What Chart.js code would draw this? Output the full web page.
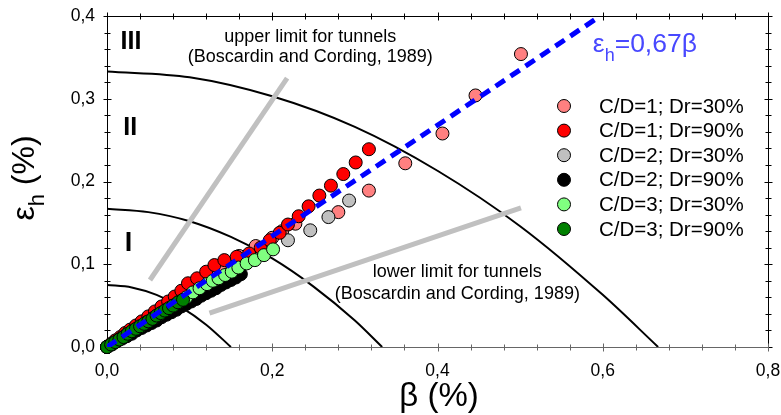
<!DOCTYPE html>
<html>
<head>
<meta charset="utf-8">
<script src="https://cdn.jsdelivr.net/npm/chart.js@4.4.1/dist/chart.umd.min.js"></script>
<style>
    html, body { margin: 0; padding: 0; background: #fff; }
    canvas { display: block; }
</style>
</head>
<body>
<canvas id="chart-strain" width="781" height="415"></canvas>
<script>
// Axis ranges and labelled (major) ticks
const xMajorTicks = [0, 0.2, 0.4, 0.6, 0.8];
const yMajorTicks = [0, 0.1, 0.2, 0.3, 0.4];

// Series labels (legend order)
const seriesLabels = ['C/D=1; Dr=30%', 'C/D=1; Dr=90%', 'C/D=2; Dr=30%', 'C/D=2; Dr=90%', 'C/D=3; Dr=30%', 'C/D=3; Dr=90%'];

// C/D=1; Dr=30%
const cd1dr30Beta = [0.000, 0.010, 0.020, 0.030, 0.040, 0.050, 0.060, 0.070, 0.080, 0.090, 0.100, 0.110, 0.125, 0.140, 0.160, 0.180, 0.200, 0.212, 0.228, 0.280, 0.317, 0.361, 0.406, 0.446, 0.501];
const cd1dr30Eps  = [0.000, 0.007, 0.014, 0.021, 0.028, 0.035, 0.042, 0.049, 0.056, 0.063, 0.070, 0.077, 0.087, 0.097, 0.110, 0.122, 0.132, 0.140, 0.149, 0.163, 0.189, 0.222, 0.258, 0.304, 0.354];

// C/D=1; Dr=90%
const cd1dr90Beta = [0.000, 0.005, 0.010, 0.016, 0.022, 0.028, 0.035, 0.042, 0.050, 0.058, 0.066, 0.074, 0.082, 0.090, 0.098, 0.109, 0.120, 0.130, 0.142, 0.157, 0.172, 0.186, 0.197, 0.209, 0.219, 0.232, 0.244, 0.257, 0.271, 0.286, 0.301, 0.317];
const cd1dr90Eps  = [0.000, 0.004, 0.008, 0.012, 0.017, 0.021, 0.026, 0.031, 0.037, 0.043, 0.049, 0.055, 0.061, 0.068, 0.077, 0.083, 0.091, 0.099, 0.105, 0.109, 0.113, 0.120, 0.129, 0.138, 0.148, 0.158, 0.170, 0.183, 0.195, 0.209, 0.223, 0.239];

// C/D=2; Dr=30%
const cd2dr30Beta = [0.000, 0.010, 0.020, 0.030, 0.040, 0.050, 0.060, 0.070, 0.080, 0.090, 0.100, 0.110, 0.120, 0.130, 0.140, 0.150, 0.160, 0.175, 0.191, 0.219, 0.246, 0.268, 0.293];
const cd2dr30Eps  = [0.000, 0.006, 0.012, 0.018, 0.024, 0.030, 0.036, 0.042, 0.048, 0.054, 0.060, 0.066, 0.072, 0.078, 0.085, 0.091, 0.097, 0.106, 0.117, 0.129, 0.141, 0.157, 0.177];

// C/D=2; Dr=90%
const cd2dr90Beta = [0.000, 0.006, 0.012, 0.018, 0.024, 0.030, 0.036, 0.042, 0.048, 0.054, 0.060, 0.066, 0.072, 0.078, 0.084, 0.090, 0.096, 0.102, 0.108, 0.114, 0.120, 0.126, 0.132, 0.138, 0.144, 0.150, 0.156, 0.162];
const cd2dr90Eps  = [0.000, 0.003, 0.007, 0.010, 0.013, 0.016, 0.020, 0.023, 0.026, 0.029, 0.032, 0.036, 0.039, 0.042, 0.045, 0.049, 0.052, 0.055, 0.058, 0.062, 0.065, 0.068, 0.071, 0.075, 0.078, 0.081, 0.084, 0.088];

// C/D=3; Dr=30%
const cd3dr30Beta = [0.000, 0.008, 0.016, 0.024, 0.032, 0.040, 0.048, 0.056, 0.064, 0.072, 0.080, 0.088, 0.096, 0.104, 0.112, 0.121, 0.128, 0.135, 0.143, 0.151, 0.159, 0.169, 0.179, 0.190, 0.201];
const cd3dr30Eps  = [0.000, 0.005, 0.010, 0.015, 0.020, 0.025, 0.030, 0.035, 0.040, 0.045, 0.050, 0.055, 0.060, 0.066, 0.071, 0.076, 0.080, 0.083, 0.087, 0.091, 0.096, 0.101, 0.105, 0.111, 0.118];

// C/D=3; Dr=90%
const cd3dr90Beta = [0.000, 0.005, 0.010, 0.015, 0.020, 0.025, 0.030, 0.035, 0.040, 0.045, 0.050, 0.055, 0.060, 0.065, 0.070, 0.075, 0.080, 0.086, 0.092];
const cd3dr90Eps  = [0.000, 0.003, 0.006, 0.009, 0.012, 0.016, 0.019, 0.022, 0.025, 0.028, 0.031, 0.034, 0.038, 0.041, 0.044, 0.047, 0.050, 0.054, 0.057];

// Damage category boundaries
const bound1Beta = [0.000, 0.030, 0.060, 0.090, 0.120, 0.150];
const bound1Eps  = [0.075, 0.072, 0.063, 0.048, 0.027, 0.000];
const bound2Beta = [0.000, 0.050, 0.100, 0.150, 0.200, 0.250, 0.300, 0.333];
const bound2Eps  = [0.167, 0.163, 0.152, 0.133, 0.107, 0.073, 0.032, 0.000];
const bound3Beta = [0.000, 0.100, 0.200, 0.300, 0.400, 0.500, 0.600, 0.667];
const bound3Eps  = [0.333, 0.326, 0.303, 0.266, 0.213, 0.146, 0.063, 0.000];

// Tunnel limits (Boscardin and Cording, 1989)
const upperLimitBeta = [0.052, 0.218];
const upperLimitEps  = [0.081, 0.325];
const lowerLimitBeta = [0.124, 0.501];
const lowerLimitEps  = [0.041, 0.168];

// Fit line eps_h = 0,67 beta
const fitBeta = [0.000, 0.597];
const fitEps  = [0.000, 0.400];

const FONT = "'Liberation Sans', Arial, Helvetica, sans-serif";

function toPoints(xs, ys) {
    return xs.map((v, i) => ({ x: v, y: ys[i] }));
}

function isMajor(value, list) {
    return list.some(m => Math.abs(m - value) < 1e-6);
}

function fmt(value) {
    return value.toFixed(1).replace('.', ',');
}

/**
 * Scatter series helper
 */
function pointSeries(label, xs, ys, color, order) {
    return {
        label: label,
        data: toPoints(xs, ys),
        showLine: false,
        pointRadius: 6.5,
        pointBorderWidth: 1,
        pointBorderColor: '#000',
        pointBackgroundColor: color,
        backgroundColor: color,
        order: order,
        clip: false
    };
}

/**
 * Line helper (boundaries, limits, fit)
 */
function lineSeries(xs, ys, color, width, order, extra) {
    return Object.assign({
        data: toPoints(xs, ys),
        showLine: true,
        pointRadius: 0,
        borderColor: color,
        borderWidth: width,
        fill: false,
        order: order
    }, extra || {});
}

const seriesColors = ['#ff8080', '#ff0000', '#c0c0c0', '#000000', '#80ff80', '#008000'];

const datasets = [
    lineSeries(bound1Beta, bound1Eps, '#000', 2, 20, { cubicInterpolationMode: 'monotone' }),
    lineSeries(bound2Beta, bound2Eps, '#000', 2, 20, { cubicInterpolationMode: 'monotone' }),
    lineSeries(bound3Beta, bound3Eps, '#000', 2, 20, { cubicInterpolationMode: 'monotone' }),
    lineSeries(upperLimitBeta, upperLimitEps, '#c0c0c0', 5, 19),
    lineSeries(lowerLimitBeta, lowerLimitEps, '#c0c0c0', 5, 19),
    pointSeries(seriesLabels[0], cd1dr30Beta, cd1dr30Eps, seriesColors[0], 8),
    pointSeries(seriesLabels[2], cd2dr30Beta, cd2dr30Eps, seriesColors[2], 7),
    pointSeries(seriesLabels[3], cd2dr90Beta, cd2dr90Eps, seriesColors[3], 6),
    pointSeries(seriesLabels[1], cd1dr90Beta, cd1dr90Eps, seriesColors[1], 5),
    pointSeries(seriesLabels[4], cd3dr30Beta, cd3dr30Eps, seriesColors[4], 4),
    pointSeries(seriesLabels[5], cd3dr90Beta, cd3dr90Eps, seriesColors[5], 3),
    lineSeries(fitBeta, fitEps, '#0000ff', 5, 0, { borderDash: [11, 7], borderCapStyle: 'butt' })
];

// Frame with ticks crossing the axis on all four sides
const framePlugin = {
    id: 'frame',
    beforeDatasetsDraw(chart) {
        const { ctx, chartArea: a, scales: { x, y } } = chart;
        const L = Math.round(a.left) + 0.5, R = Math.round(a.right) + 0.5;
        const T = Math.round(a.top) + 0.5, B = Math.round(a.bottom) + 0.5;
        ctx.save();
        ctx.lineWidth = 1;
        ctx.strokeStyle = '#000';
        ctx.beginPath();
        ctx.moveTo(L, B); ctx.lineTo(L, T); ctx.lineTo(R, T); ctx.lineTo(R, B);
        x.ticks.forEach(t => {
            const p = Math.round(x.getPixelForValue(t.value)) + 0.5;
            const len = isMajor(t.value, xMajorTicks) ? 4 : 3;
            ctx.moveTo(p, T - len); ctx.lineTo(p, T + len);
        });
        y.ticks.forEach(t => {
            const p = Math.round(y.getPixelForValue(t.value)) + 0.5;
            const len = isMajor(t.value, yMajorTicks) ? 4 : 3;
            ctx.moveTo(L - len, p); ctx.lineTo(L + len, p);
            ctx.moveTo(R - len, p); ctx.lineTo(R + len, p);
        });
        ctx.stroke();

        // bottom axis is grey in the original
        ctx.strokeStyle = '#666';
        ctx.beginPath();
        ctx.moveTo(L, B); ctx.lineTo(R, B);
        x.ticks.forEach(t => {
            const p = Math.round(x.getPixelForValue(t.value)) + 0.5;
            const len = isMajor(t.value, xMajorTicks) ? 4 : 3;
            ctx.moveTo(p, B - len); ctx.lineTo(p, B + len);
        });
        ctx.stroke();
        ctx.restore();
    }
};

// Text annotations, axis titles and the legend
const textPlugin = {
    id: 'texts',
    afterDraw(chart) {
        const { ctx, scales: { x, y } } = chart;
        const px = v => x.getPixelForValue(v);
        const py = v => y.getPixelForValue(v);
        ctx.save();
        ctx.fillStyle = '#000';

        // damage zones
        ctx.font = 'bold 25px ' + FONT;
        ctx.textAlign = 'center';
        ctx.textBaseline = 'middle';
        ctx.fillText('III', px(0.029), py(0.369));
        ctx.fillText('II', px(0.028), py(0.265));
        ctx.font = 'bold 27px ' + FONT;
        ctx.fillText('I', px(0.026), py(0.125));

        // limit annotations
        ctx.font = '18px ' + FONT;
        ctx.fillText('upper limit for tunnels', px(0.246), py(0.374));
        ctx.fillText('(Boscardin and Cording, 1989)', px(0.246), py(0.351));
        ctx.fillText('lower limit for tunnels', px(0.424), py(0.091));
        ctx.fillText('(Boscardin and Cording, 1989)', px(0.424), py(0.064));

        // fit label
        ctx.fillStyle = '#4848ff';
        ctx.textAlign = 'left';
        ctx.textBaseline = 'alphabetic';
        let sx = px(0.588);
        const sy = py(0.356);
        ctx.font = '26.5px ' + FONT;
        ctx.fillText('ε', sx, sy);
        sx += ctx.measureText('ε').width;
        ctx.font = '18px ' + FONT;
        ctx.fillText('h', sx, sy + 9);
        sx += ctx.measureText('h').width;
        ctx.font = '26.5px ' + FONT;
        ctx.fillText('=0,67β', sx, sy);

        // x axis title
        ctx.fillStyle = '#000';
        ctx.font = '33px ' + FONT;
        ctx.textAlign = 'center';
        ctx.fillText('β (%)', 439, 406);

        // y axis title (rotated, with subscript)
        ctx.save();
        ctx.translate(34, 178);
        ctx.rotate(-Math.PI / 2);
        ctx.textAlign = 'left';
        ctx.font = '32px ' + FONT;
        const wE = ctx.measureText('ε').width;
        const wRest = ctx.measureText(' (%)').width;
        ctx.font = '22px ' + FONT;
        const wH = ctx.measureText('h').width;
        let tx = -(wE + wH + wRest) / 2;
        ctx.font = '32px ' + FONT;
        ctx.fillText('ε', tx, 0);
        tx += wE;
        ctx.font = '22px ' + FONT;
        ctx.fillText('h', tx, 10);
        tx += wH;
        ctx.font = '32px ' + FONT;
        ctx.fillText(' (%)', tx, 0);
        ctx.restore();

        // legend
        ctx.font = '20.5px ' + FONT;
        ctx.textAlign = 'left';
        ctx.textBaseline = 'middle';
        seriesLabels.forEach((label, i) => {
            const ly = 106 + i * 24.6;
            ctx.beginPath();
            ctx.arc(564, ly, 6.5, 0, Math.PI * 2);
            ctx.fillStyle = seriesColors[i];
            ctx.fill();
            ctx.lineWidth = 1;
            ctx.strokeStyle = '#000';
            ctx.stroke();
            ctx.fillStyle = '#000';
            ctx.fillText(label, 599, ly + 1);
        });
        ctx.restore();
    }
};

Chart.defaults.font.family = FONT;
Chart.defaults.color = '#000';

new Chart(document.getElementById('chart-strain'), {
    type: 'scatter',
    data: { datasets: datasets },
    options: {
        responsive: false,
        animation: false,
        events: [],
        layout: { padding: { top: 16, right: 13, left: 0, bottom: 0 } },
        plugins: {
            legend: { display: false },
            tooltip: { enabled: false }
        },
        scales: {
            x: {
                type: 'linear',
                min: 0,
                max: 0.8,
                afterFit: scale => {
                    scale.height = 68;
                    scale.paddingLeft = 0;
                    scale.paddingRight = 0;
                },
                grid: { display: false, drawTicks: false },
                border: { display: false },
                ticks: {
                    stepSize: 0.04,
                    autoSkip: false,
                    maxRotation: 0,
                    padding: 14,
                    color: '#000',
                    font: { size: 17.5 },
                    callback: value => isMajor(value, xMajorTicks) ? fmt(value) : ''
                }
            },
            y: {
                type: 'linear',
                min: 0,
                max: 0.4,
                afterFit: scale => {
                    scale.width = 107;
                    scale.paddingTop = 0;
                    scale.paddingBottom = 0;
                },
                grid: { display: false, drawTicks: false },
                border: { display: false },
                ticks: {
                    stepSize: 0.02,
                    autoSkip: false,
                    padding: 12,
                    color: '#000',
                    font: { size: 17.5 },
                    callback: value => isMajor(value, yMajorTicks) ? fmt(value) : ''
                }
            }
        }
    },
    plugins: [framePlugin, textPlugin]
});
</script>
</body>
</html>
